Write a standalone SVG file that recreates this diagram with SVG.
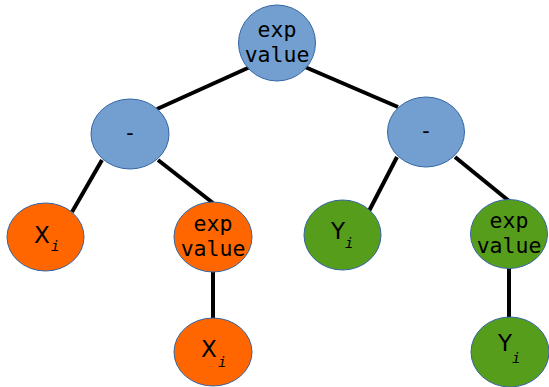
<svg xmlns="http://www.w3.org/2000/svg" width="549" height="387" viewBox="0 0 549 387">
<style>
.edge{stroke:#000;stroke-width:4;fill:none}
.blue{fill:#729fcf;stroke:#3465a4;stroke-width:1}
.orange{fill:#ff6600;stroke:#3465a4;stroke-width:1}
.green{fill:#579d1c;stroke:#3465a4;stroke-width:1}
.mono{font-family:"DejaVu Sans Mono",monospace;font-size:21.5px;fill:#000;text-anchor:middle}
.lbl{font-family:"DejaVu Sans",sans-serif;font-size:23px;fill:#000}
.sub{font-family:"DejaVu Sans Mono",monospace;font-style:italic;font-size:14px;fill:#000}
</style>
<rect width="549" height="387" fill="#fff"/>
<g id="connectors">
<line class="edge" x1="250" y1="67" x2="157" y2="109"/>
<line class="edge" x1="305" y1="67" x2="398" y2="107"/>
<line class="edge" x1="102" y1="160" x2="72" y2="212"/>
<line class="edge" x1="158" y1="160" x2="213" y2="203"/>
<line class="edge" x1="397" y1="157" x2="369" y2="211"/>
<line class="edge" x1="455" y1="157" x2="509" y2="201"/>
<line class="edge" x1="213" y1="270" x2="213" y2="319"/>
<line class="edge" x1="509" y1="267" x2="509" y2="318"/>
</g>
<g id="root">
<ellipse class="blue" cx="277" cy="43" rx="38.5" ry="38"/>
<text class="mono" x="277" y="37">exp</text>
<text class="mono" x="277" y="62">value</text>
</g>
<g id="minus-left">
<ellipse class="blue" cx="130" cy="134" rx="39" ry="35"/>
<text class="mono" x="130" y="140" font-size="16">-</text>
</g>
<g id="minus-right">
<ellipse class="blue" cx="426" cy="132" rx="38.5" ry="35"/>
<text class="mono" x="426" y="138" font-size="16">-</text>
</g>
<g id="xi-left">
<ellipse class="orange" cx="45.5" cy="237" rx="38.5" ry="34"/>
<text class="lbl" x="34" y="243">X</text>
<text class="sub" x="51" y="251">i</text>
</g>
<g id="exp-orange">
<ellipse class="orange" cx="213" cy="237" rx="39" ry="35"/>
<text class="mono" x="213" y="231">exp</text>
<text class="mono" x="213" y="256">value</text>
</g>
<g id="xi-bottom">
<ellipse class="orange" cx="213" cy="352" rx="39" ry="34"/>
<text class="lbl" x="201" y="357">X</text>
<text class="sub" x="218" y="367">i</text>
</g>
<g id="yi-mid">
<ellipse class="green" cx="342.5" cy="235" rx="38.5" ry="35"/>
<text class="lbl" x="331" y="239">Y</text>
<text class="sub" x="345" y="248">i</text>
</g>
<g id="exp-green">
<ellipse class="green" cx="509" cy="234" rx="38.5" ry="34.5"/>
<text class="mono" x="509" y="228">exp</text>
<text class="mono" x="509" y="253">value</text>
</g>
<g id="yi-bottom">
<ellipse class="green" cx="510" cy="352" rx="39" ry="35"/>
<text class="lbl" x="498" y="351">Y</text>
<text class="sub" x="512" y="363">i</text>
</g>
</svg>
